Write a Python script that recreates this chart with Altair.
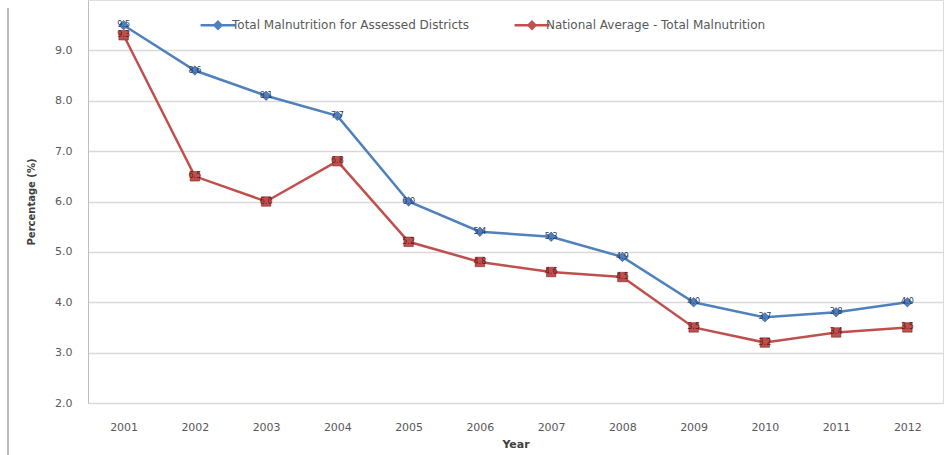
import altair as alt
import pandas as pd

years = ["2001", "2002", "2003", "2004", "2005", "2006", "2007", "2008", "2009", "2010", "2011", "2012"]
assessed = [9.5, 8.6, 8.1, 7.7, 6.0, 5.4, 5.3, 4.9, 4.0, 3.7, 3.8, 4.0]
national = [9.3, 6.5, 6.0, 6.8, 5.2, 4.8, 4.6, 4.5, 3.5, 3.2, 3.4, 3.5]
series_names = ["Total Malnutrition for Assessed Districts", "National Average - Total Malnutrition"]
series_colors = ["#4f81bd", "#c0504d"]
label_colors = ["#1f3a6b", "#6b1a18"]
marker_shapes = ["diamond", "square"]

rows = []
for name, vals in zip(series_names, [assessed, national]):
    for y, v in zip(years, vals):
        rows.append({"year": y, "value": v, "series": name})
df = pd.DataFrame(rows)

x_enc = alt.X("year:O", title="Year", sort=years,
              scale=alt.Scale(padding=0.5),
              axis=alt.Axis(labelAngle=0, ticks=False, domain=True, domainColor="#d9d9d9",
                            labelPadding=18, labelFontSize=11, labelColor="#595959",
                            titleFontSize=11, titleFontWeight="bold", titleColor="#404040",
                            titlePadding=6, grid=False))
y_enc = alt.Y("value:Q", title="Percentage (%)",
              scale=alt.Scale(domain=[2, 10], nice=False, zero=False),
              axis=alt.Axis(values=[2, 3, 4, 5, 6, 7, 8, 9], format=".1f", ticks=False,
                            domainColor="#bfbfbf", gridColor="#d9d9d9", gridWidth=1.5,
                            labelPadding=16, labelFontSize=11, labelColor="#595959",
                            titleFontSize=10, titleFontWeight="bold", titleColor="#404040",
                            titlePadding=18))

lines = alt.Chart(df).mark_line(strokeWidth=2.5).encode(
    x=x_enc, y=y_enc,
    stroke=alt.Stroke("series:N", scale=alt.Scale(domain=series_names, range=series_colors),
                      sort=series_names,
                      legend=alt.Legend(title=None, orient="none", legendX=117, legendY=12,
                                        direction="horizontal",
                                        symbolType="M-1.5,0L1.5,0M0,-0.3L0.3,0L0,0.3L-0.3,0Z",
                                        symbolSize=540, symbolStrokeWidth=2.5,
                                        labelFontSize=12, labelColor="#595959", labelLimit=0,
                                        columnPadding=40, labelOffset=1)),
)

layers = [lines]
for name, col, lcol, shp in zip(series_names, series_colors, label_colors, marker_shapes):
    base = alt.Chart(df).transform_filter(alt.datum.series == name)
    layers.append(base.mark_point(filled=True, size=90, opacity=1, shape=shp, color=col,
                                  stroke=lcol, strokeWidth=0.5).encode(x=x_enc, y=y_enc))
    layers.append(base.mark_text(fontSize=8, baseline="middle", align="center", color=lcol).encode(
        x=x_enc, y=y_enc, text=alt.Text("value:Q", format=".1f")))

border = alt.Chart(pd.DataFrame({"a": [0]})).mark_rule(color="#a6a6a6", strokeWidth=1.5).encode(
    x=alt.value(-80), y=alt.value(8), y2=alt.value(455)
)

chart = alt.layer(border, *layers).properties(
    width=855, height=403,
    autosize=alt.AutoSizeParams(type="none"),
    padding={"left": 88, "top": 0, "right": 6, "bottom": 52},
).configure_view(stroke=None).configure(font="DejaVu Sans")

chart.save("out.html", embed_options={"renderer": "svg", "actions": False})
